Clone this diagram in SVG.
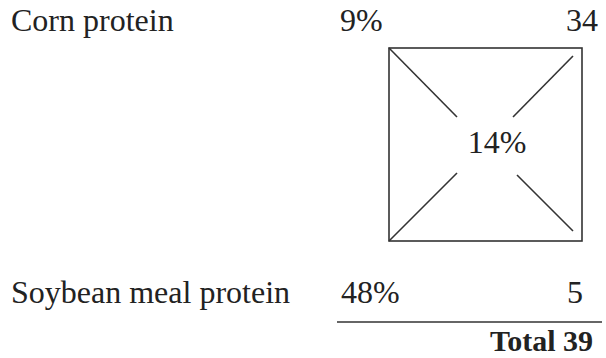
<svg xmlns="http://www.w3.org/2000/svg" width="606" height="358" viewBox="0 0 606 358">
<style>
text{font-family:"Liberation Serif","Times New Roman",serif;font-size:32px;fill:#222}
.b{font-weight:bold;font-size:30px}
.e{text-anchor:end}
.m{text-anchor:middle}
.ln{stroke:#333;stroke-width:1.6;fill:none}
</style>
<rect width="606" height="358" fill="#fff"/>
<g id="corn">
<text x="11" y="31">Corn protein</text>
<text x="340" y="31">9%</text>
<text class="e" x="598" y="31">34</text>
</g>
<g id="square">
<rect class="ln" x="389" y="48" width="193" height="193"/>
<text class="m" x="497" y="153">14%</text>
</g>
<g id="connectors">
<line class="ln" x1="389" y1="48" x2="457" y2="117"/>
<line class="ln" x1="573" y1="56" x2="513" y2="117"/>
<line class="ln" x1="389" y1="241" x2="457" y2="173"/>
<line class="ln" x1="517" y1="175" x2="573" y2="231"/>
</g>
<g id="soybean">
<text x="11" y="303">Soybean meal protein</text>
<text x="341" y="303">48%</text>
<text class="e" x="583" y="303">5</text>
</g>
<g id="total">
<line class="ln" x1="337" y1="322" x2="602" y2="322"/>
<text class="b e" x="593" y="351">Total 39</text>
</g>
</svg>
